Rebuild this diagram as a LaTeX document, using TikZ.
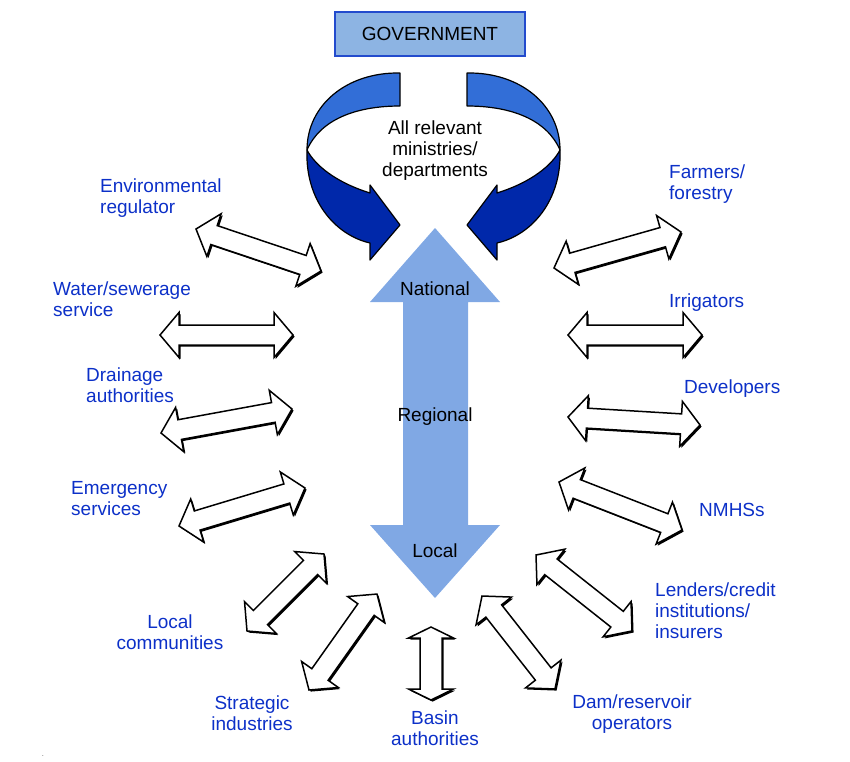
\documentclass[tikz,border=0pt]{standalone}
\usepackage{fontspec}
\setmainfont{Liberation Sans}
\usetikzlibrary{calc}

\definecolor{labelblue}{RGB}{12,48,200}
\definecolor{govfill}{RGB}{141,180,227}
\definecolor{govborder}{RGB}{35,75,205}
\definecolor{levelblue}{RGB}{128,168,228}
\definecolor{ribbonlight}{RGB}{50,110,215}
\definecolor{ribbondark}{RGB}{0,40,170}

% Outlined double-headed arrow from #3 to #4; #1 = head length, #2 = shaft half-width
\newcommand\twoheaded[4]{%
  \path let \p1=($(#4)-(#3)$) in
    \pgfextra{\pgfmathsetmacro\arrang{atan2(\y1,\x1)}%
              \pgfmathsetmacro\arrlen{veclen(\x1,\y1)}%
              \global\let\arrang\arrang\global\let\arrlen\arrlen};
  \begin{scope}[shift={($(#3)+(1.6,1.6)$)}, rotate=\arrang]
    \fill[black] (0,0) -- (#1,22.5) -- (#1,#2) -- (\arrlen-#1,#2) -- (\arrlen-#1,22.5)
      -- (\arrlen,0) -- (\arrlen-#1,-22.5) -- (\arrlen-#1,-#2) -- (#1,-#2) -- (#1,-22.5) -- cycle;
  \end{scope}
  \begin{scope}[shift={(#3)}, rotate=\arrang]
    \filldraw[arrbody] (0,0) -- (#1,22.5) -- (#1,#2) -- (\arrlen-#1,#2) -- (\arrlen-#1,22.5)
      -- (\arrlen,0) -- (\arrlen-#1,-22.5) -- (\arrlen-#1,-#2) -- (#1,-#2) -- (#1,-22.5) -- cycle;
  \end{scope}}

\begin{document}
\begin{tikzpicture}[x=1pt, y=-1pt,
  lbl/.style={text=labelblue, font=\fontsize{19}{21}\selectfont, inner sep=0pt, align=left, anchor=west},
  lblc/.style={lbl, align=center, anchor=center},
  plain/.style={text=black, font=\fontsize{19}{21}\selectfont, inner sep=0pt, align=center},
  arrbody/.style={fill=white, draw=black, line width=1.5pt, line join=miter},
  ribbon/.style={draw=black, line width=1.2pt, line join=round}]

\useasboundingbox (0,0) rectangle (850,761);

% ---- government box ----
\node[plain, draw=govborder, fill=govfill, line width=1.5pt,
      minimum width=190, minimum height=44] (gov) at (430,34) {GOVERNMENT};

% ---- curved ribbons (left one, then its mirror image) ----
\foreach \side in {1,-1}{
  \begin{scope}[shift={({433.5-433.5*\side},0)}, xscale=\side]
    \filldraw[ribbon, fill=ribbonlight]
      (400,73) .. controls (347,72) and (307,105) .. (307,150)
      .. controls (320,120) and (355,106) .. (400,106) -- cycle;
    \filldraw[ribbon, fill=ribbondark]
      (307,150) .. controls (305,200) and (335,235) .. (370,243)
      -- (370,260) -- (400,225) -- (370,185) -- (370,193)
      .. controls (335,182) and (315,165) .. (307,150) -- cycle;
  \end{scope}
}
\node[plain] (ministries) at (435,151) {All relevant\\ministries/\\departments};

% ---- national / regional / local scale ----
\fill[levelblue] (435,228) -- (500,302) -- (468,302) -- (468,525) -- (500,525)
  -- (435,598) -- (370,525) -- (403,525) -- (403,302) -- (370,302) -- cycle;
\node[plain] (national) at (435,289) {National};
\node[plain] (regional) at (435,417) {Regional};
\node[plain] (local) at (435,551) {Local};

% ---- stakeholders ----
\node[lbl] (env) at (100,198.5) {Environmental\\regulator};
\node[lbl] (water) at (53,299) {Water/sewerage\\service};
\node[lbl] (drain) at (86,385) {Drainage\\authorities};
\node[lbl] (emerg) at (71,499) {Emergency\\services};
\node[lblc] (comm) at (170,632) {Local\\communities};
\node[lblc] (indus) at (252,713) {Strategic\\industries};
\node[lblc] (basin) at (435,728.5) {Basin\\authorities};
\node[lblc] (dam) at (632,714) {Dam/reservoir\\operators};
\node[lbl] (lend) at (655,611) {Lenders/credit\\institutions/\\insurers};
\node[lbl] (nmhs) at (699,510) {NMHSs};
\node[lbl] (dev) at (684,389) {Developers};
\node[lbl] (irr) at (669,303) {Irrigators};
\node[lbl] (farm) at (669,184) {Farmers/\\forestry};

\node[text=black, font=\fontsize{6}{6}\selectfont, inner sep=0pt] (dot) at (43,756) {.};

% ---- exchange arrows: ends of each link ----
\coordinate (env-a) at (196,229);   \coordinate (env-b) at (321,271);
\coordinate (water-a) at (160,335); \coordinate (water-b) at (293,335);
\coordinate (drain-a) at (161,433); \coordinate (drain-b) at (292,409);
\coordinate (emerg-a) at (179,526); \coordinate (emerg-b) at (305,488);
\coordinate (comm-a) at (247,631);  \coordinate (comm-b) at (324,554);
\coordinate (indus-a) at (309,690); \coordinate (indus-b) at (377,594);
\coordinate (basin-a) at (431,700); \coordinate (basin-b) at (431,627);
\coordinate (dam-a) at (482,596);   \coordinate (dam-b) at (555,689);
\coordinate (lend-a) at (536,555);  \coordinate (lend-b) at (632,631);
\coordinate (nmhs-a) at (559,482);  \coordinate (nmhs-b) at (682,530);
\coordinate (dev-a) at (568,417);   \coordinate (dev-b) at (700,425);
\coordinate (irr-a) at (568,335);   \coordinate (irr-b) at (702,335);
\coordinate (farm-a) at (554,268);  \coordinate (farm-b) at (681,232);

\twoheaded{19}{10}{env-a}{env-b}
\twoheaded{19}{10}{water-a}{water-b}
\twoheaded{19}{10}{drain-a}{drain-b}
\twoheaded{19}{10}{emerg-a}{emerg-b}
\twoheaded{19}{10}{comm-a}{comm-b}
\twoheaded{19}{10}{indus-a}{indus-b}
\twoheaded{11}{11}{basin-a}{basin-b}
\twoheaded{19}{10}{dam-a}{dam-b}
\twoheaded{19}{10}{lend-a}{lend-b}
\twoheaded{19}{10}{nmhs-a}{nmhs-b}
\twoheaded{19}{10}{dev-a}{dev-b}
\twoheaded{19}{10}{irr-a}{irr-b}
\twoheaded{19}{10}{farm-a}{farm-b}

\end{tikzpicture}
\end{document}
